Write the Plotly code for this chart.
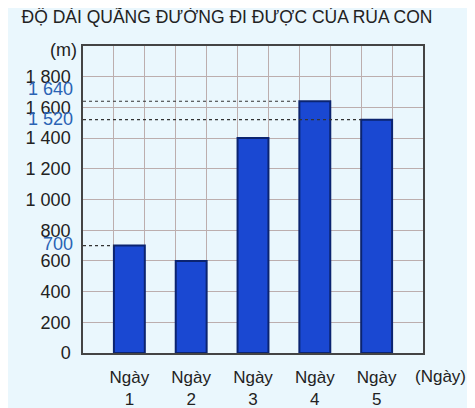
import plotly.graph_objects as go

# data
days = ["Ngày<br>1", "Ngày<br>2", "Ngày<br>3", "Ngày<br>4", "Ngày<br>5"]
distance = [700, 600, 1400, 1640, 1520]
y_ticks = [0, 200, 400, 600, 800, 1000, 1200, 1400, 1600, 1800]
marked = [0, 3, 4]  # bars whose height gets a dotted guide and a blue label

font = "Liberation Sans, Arial, sans-serif"
ink = "#222222"
grid = "#bcaeae"

def spaced(v):
    return f"{v:,}".replace(",", " ")

x = list(range(len(days)))

fig = go.Figure(go.Bar(
    x=x,
    y=distance,
    width=0.5,
    marker=dict(color="#1a48d2", line=dict(color="#0b2470", width=2)),
    hoverinfo="skip",
))

for i in marked:
    v = distance[i]
    fig.add_trace(go.Scatter(
        x=[-0.75, i - 0.25], y=[v, v],
        mode="lines",
        line=dict(color="#333333", width=1.2, dash="3px,3px"),
        hoverinfo="skip",
    ))

shift = {0: 2, 3: 12, 4: 1}
for i in marked:
    fig.add_annotation(
        xref="paper", x=0, y=distance[i], xanchor="right", xshift=-8,
        yanchor="middle", yshift=shift[i], text=spaced(distance[i]),
        showarrow=False,
        font=dict(family=font, size=18, color="#2a63b4"),
    )

fig.add_annotation(xref="paper", yref="paper", x=-0.058, y=0.987,
                   xanchor="center", yanchor="middle",
                   text="(m)", showarrow=False,
                   font=dict(family=font, size=18, color=ink))
fig.add_annotation(xref="paper", yref="paper", x=1.05, y=-0.078,
                   xanchor="center", yanchor="middle",
                   text="(Ngày)", showarrow=False,
                   font=dict(family=font, size=17, color=ink))

# the page adds an 8px body margin, so the figure is 8px smaller
fig.update_layout(
    width=467, height=400,
    margin=dict(l=75, r=52, t=38, b=55),
    paper_bgcolor="#eaf7fd",
    plot_bgcolor="#eaf7fd",
    showlegend=False,
    title=dict(text="ĐỘ DÀI QUÃNG ĐƯỜNG ĐI ĐƯỢC CỦA RÙA CON",
               x=0.469, xanchor="center", y=0.977, yanchor="middle",
               font=dict(family=font, size=17.5, color=ink)),
    xaxis=dict(
        range=[-0.75, 4.75],
        tickvals=x, ticktext=days,
        showgrid=False, zeroline=False, automargin=False,
        showline=True, linecolor="#444444", linewidth=1.5, mirror=True,
        ticks="", ticklabelstandoff=8,
        tickfont=dict(family=font, size=17, color=ink),
        minor=dict(tick0=-0.25, dtick=0.5, showgrid=True,
                   gridcolor=grid, gridwidth=1),
    ),
    yaxis=dict(
        range=[0, 2000],
        tickvals=y_ticks, ticktext=[spaced(v) for v in y_ticks],
        showgrid=True, gridcolor=grid, gridwidth=1, zeroline=False,
        automargin=False,
        showline=True, linecolor="#444444", linewidth=1.5, mirror=True,
        ticks="", ticklabelstandoff=7,
        tickfont=dict(family=font, size=18, color=ink),
    ),
)

fig.write_html("out.html")
